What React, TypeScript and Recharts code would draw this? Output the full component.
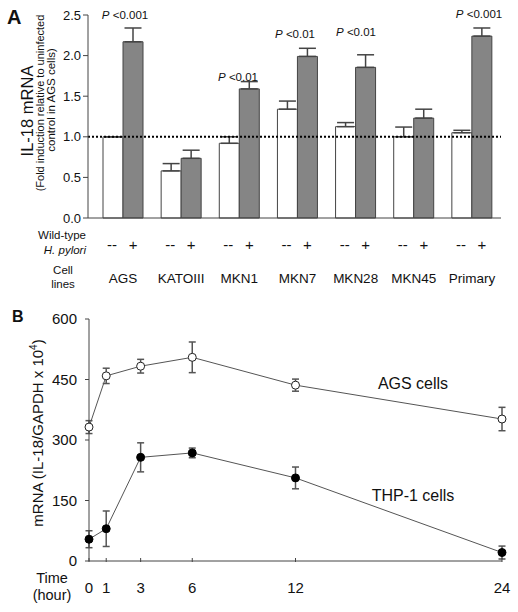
import { BarChart, Bar, XAxis, YAxis, ErrorBar, ReferenceLine, LineChart, Line } from 'recharts'

// Panel A: IL-18 mRNA fold induction per cell line
const cellLines = ['AGS', 'KATOIII', 'MKN1', 'MKN7', 'MKN28', 'MKN45', 'Primary']
const uninfected = [1.0, 0.58, 0.92, 1.34, 1.125, 1.0, 1.05]
const uninfectedErr = [0, 0.09, 0.08, 0.1, 0.05, 0.12, 0.03]
const infected = [2.17, 0.735, 1.59, 1.99, 1.855, 1.23, 2.24]
const infectedErr = [0.17, 0.1, 0.09, 0.1, 0.155, 0.11, 0.1]
const foldTicks = [0, 0.5, 1, 1.5, 2, 2.5]
const pLabels = ['<0.001', '<0.01', '<0.01', '<0.01', '<0.001']

// Panel B: time course
const hours = [0, 1, 3, 6, 12, 24]
const agsCells = [332, 459, 483, 505, 436, 352]
const agsErr = [16, 19, 17, 38, 15, 29]
const thpCells = [54, 80, 257, 268, 206, 21]
const thpErr = [21, 44, 36, 12, 27, 16]
const mrnaTicks = [0, 150, 300, 450, 600]

const FONT = '"Liberation Sans", Arial, Helvetica, sans-serif'
const AXIS = '#444'

const barData = cellLines.map((name, i) => ({
  name,
  uninfected: uninfected[i],
  uninfectedErr: [0, uninfectedErr[i]],
  infected: infected[i],
  infectedErr: [0, infectedErr[i]],
}))

const timeData = hours.map((h, i) => ({
  h,
  ags: agsCells[i],
  agsErr: agsErr[i],
  thp: thpCells[i],
  thpErr: thpErr[i],
}))

function CellLineTick(props: any) {
  const { x, y, payload } = props
  return (
    <g fontFamily={FONT} fill="#111">
      <text x={x - 11} y={y + 26} textAnchor="middle" dominantBaseline="central" fontSize={15}>--</text>
      <text x={x + 10} y={y + 26} textAnchor="middle" dominantBaseline="central" fontSize={15}>+</text>
      <text x={x} y={y + 60} textAnchor="middle" dominantBaseline="central" fontSize={13.5}>
        {payload.value}
      </text>
    </g>
  )
}

function HourTick(props: any) {
  const { x, y, payload } = props
  return (
    <g>
      <line x1={x} x2={x} y1={y - 3} y2={y + 1} stroke={AXIS} />
      <text x={x} y={y + 26} textAnchor="middle" dominantBaseline="central" fontSize={15} fontFamily={FONT} fill="#111">
        {payload.value}
      </text>
    </g>
  )
}

const pPos = [
  [125, 15],
  [238, 77],
  [295, 34],
  [356, 32],
  [479, 14],
]

export default function App() {
  return (
    <div style={{ position: 'absolute', left: 0, top: 0, width: 518, height: 612, background: '#fff', fontFamily: FONT }}>
      <div style={{ position: 'absolute', left: 0, top: 0 }}>
        <BarChart width={518} height={300} data={barData} margin={{ top: 15, right: 17, left: 0, bottom: 0 }} barGap={0}>
          <XAxis
            dataKey="name"
            height={82}
            padding={{ left: 6, right: 0 }}
            axisLine={{ stroke: AXIS }}
            tickLine={false}
            tickSize={0}
            tickMargin={0}
            interval={0}
            tick={<CellLineTick />}
          />
          <YAxis
            width={88}
            domain={[0, 2.5]}
            ticks={foldTicks}
            tickFormatter={(v: number) => v.toFixed(1)}
            tickSize={5}
            tickMargin={2}
            axisLine={{ stroke: AXIS }}
            tickLine={{ stroke: AXIS }}
            tick={{ fontSize: 13, fill: '#111', fontFamily: FONT }}
          />
          <Bar dataKey="uninfected" fill="#fff" stroke={AXIS} barSize={20} isAnimationActive={false}>
            <ErrorBar dataKey="uninfectedErr" direction="y" width={8.5} stroke={AXIS} />
          </Bar>
          <Bar dataKey="infected" fill="#858585" stroke={AXIS} barSize={20} isAnimationActive={false}>
            <ErrorBar dataKey="infectedErr" direction="y" width={8.5} stroke={AXIS} />
          </Bar>
          <ReferenceLine y={1} stroke="#000" strokeWidth={2} strokeDasharray="2 2" />
        </BarChart>
      </div>

      <div style={{ position: 'absolute', left: 0, top: 300 }}>
        <LineChart width={518} height={312} data={timeData} margin={{ top: 19, right: 16, left: 0, bottom: 0 }}>
          <XAxis
            dataKey="h"
            type="number"
            domain={[0, 24]}
            ticks={hours}
            height={51}
            axisLine={{ stroke: AXIS }}
            tickLine={false}
            tickSize={0}
            tickMargin={0}
            interval={0}
            tick={<HourTick />}
          />
          <YAxis
            width={89}
            domain={[0, 600]}
            ticks={mrnaTicks}
            tickSize={4}
            tickMargin={8}
            axisLine={{ stroke: AXIS }}
            tickLine={{ stroke: AXIS }}
            tick={{ fontSize: 15, fill: '#111', fontFamily: FONT }}
          />
          <Line
            type="linear"
            dataKey="ags"
            stroke="#555"
            strokeWidth={1}
            dot={{ r: 4, fill: '#fff', stroke: '#222', strokeWidth: 1 }}
            isAnimationActive={false}
          >
            <ErrorBar dataKey="agsErr" direction="y" width={3.5} stroke="#555" />
          </Line>
          <Line
            type="linear"
            dataKey="thp"
            stroke="#555"
            strokeWidth={1}
            dot={{ r: 4, fill: '#000', stroke: '#000', strokeWidth: 1 }}
            isAnimationActive={false}
          >
            <ErrorBar dataKey="thpErr" direction="y" width={3.5} stroke="#555" />
          </Line>
        </LineChart>
      </div>

      <svg width={518} height={612} style={{ position: 'absolute', left: 0, top: 0, pointerEvents: 'none' }} fontFamily={FONT} fill="#111">
        <text x={7} y={24} fontSize={20} fontWeight="bold">A</text>
        <text x={12} y={322} fontSize={16} fontWeight="bold">B</text>

        <text transform="translate(33,111) rotate(-90)" textAnchor="middle" fontSize={16.5}>IL-18 mRNA</text>
        <text transform="translate(44,103) rotate(-90)" textAnchor="middle" fontSize={11}>
          (Fold induction relative to uninfected
        </text>
        <text transform="translate(55,100) rotate(-90)" textAnchor="middle" fontSize={11.5}>
          control in AGS cells)
        </text>

        {pLabels.map((p, i) => (
          <text key={i} x={pPos[i][0]} y={pPos[i][1]} textAnchor="middle" dominantBaseline="central" fontSize={11.5}>
            <tspan fontStyle="italic">P</tspan> {p}
          </text>
        ))}

        <text x={86} y={235} textAnchor="end" dominantBaseline="central" fontSize={11.5}>Wild-type</text>
        <text x={86} y={250} textAnchor="end" dominantBaseline="central" fontSize={11.5} fontStyle="italic">H. pylori</text>
        <text x={63} y={270} textAnchor="middle" dominantBaseline="central" fontSize={11.5}>Cell</text>
        <text x={63} y={284} textAnchor="middle" dominantBaseline="central" fontSize={11.5}>lines</text>

        <text transform="translate(43,433) rotate(-90)" textAnchor="middle" fontSize={15}>
          mRNA (IL-18/GAPDH x 10<tspan fontSize={10} dy={-6}>4</tspan><tspan dy={6}>)</tspan>
        </text>
        <text x={413} y={383} textAnchor="middle" dominantBaseline="central" fontSize={16}>AGS cells</text>
        <text x={413} y={495} textAnchor="middle" dominantBaseline="central" fontSize={16}>THP-1 cells</text>

        <text x={52} y={578} textAnchor="middle" dominantBaseline="central" fontSize={14.5}>Time</text>
        <text x={52} y={595} textAnchor="middle" dominantBaseline="central" fontSize={14.5}>(hour)</text>
      </svg>
    </div>
  )
}
